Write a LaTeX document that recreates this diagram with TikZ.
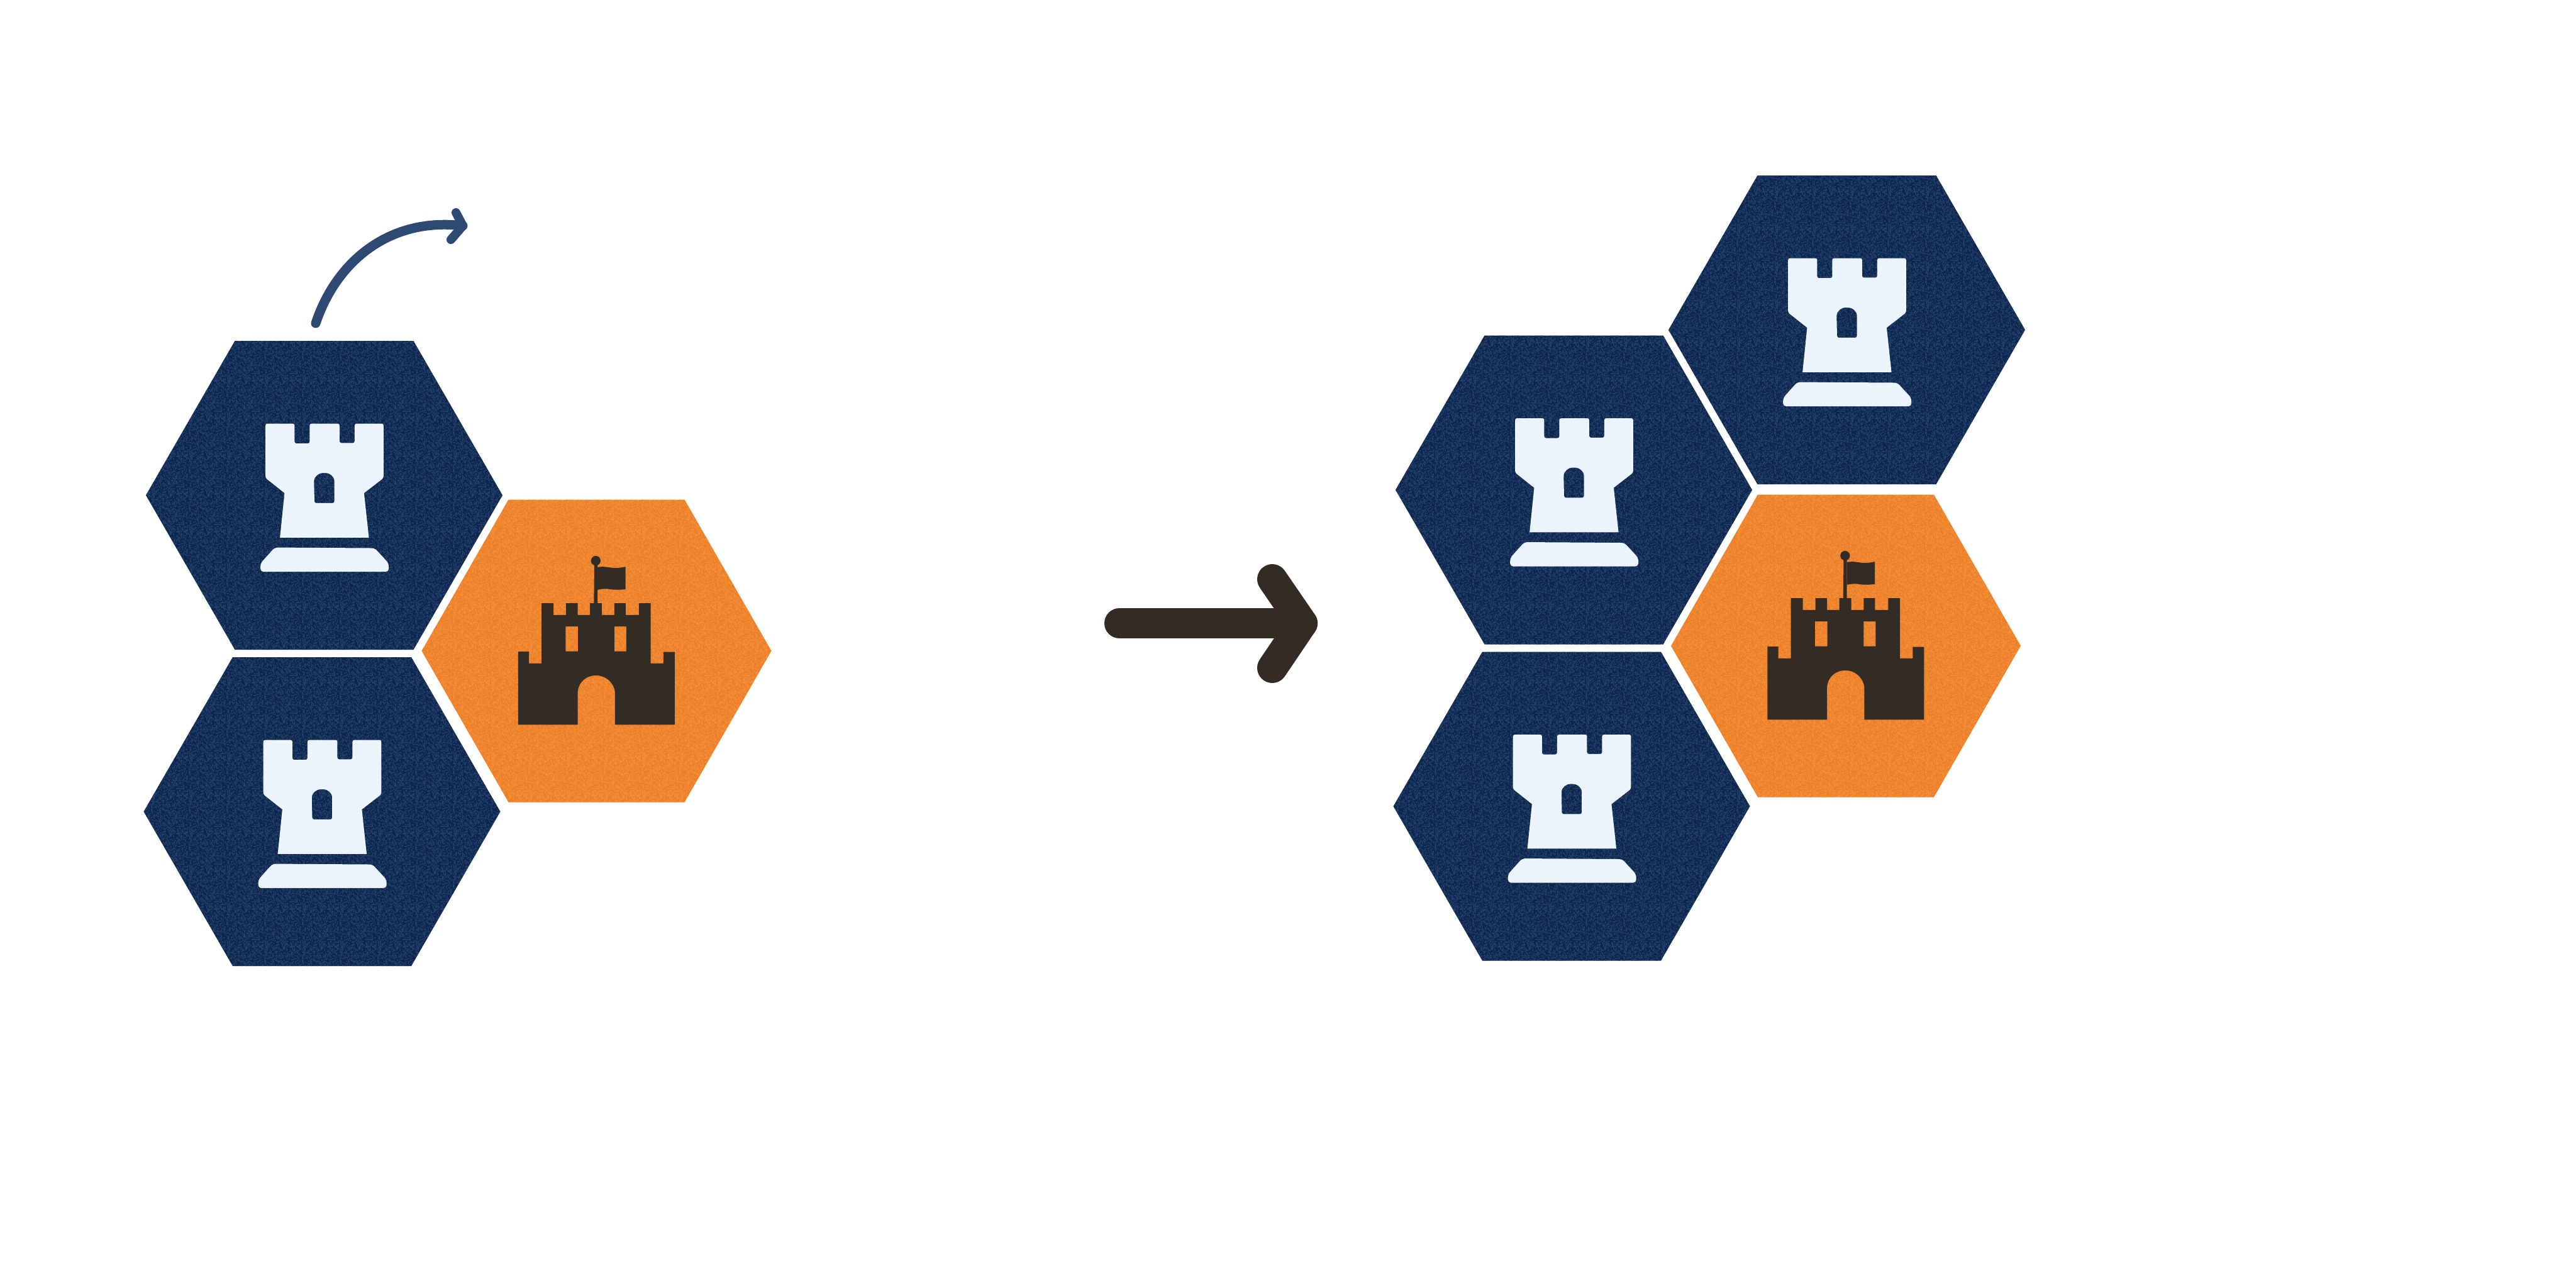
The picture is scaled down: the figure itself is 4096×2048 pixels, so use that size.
\documentclass[tikz,border=0pt]{standalone}
\usetikzlibrary{patterns}
\definecolor{navybase}{HTML}{0D264E}
\definecolor{navylight}{HTML}{26426C}
\definecolor{orangebase}{HTML}{EC802A}
\definecolor{orangelight}{HTML}{F59039}
\definecolor{towerfill}{HTML}{EBF3FD}
\definecolor{darkbrown}{HTML}{332C25}
\definecolor{curvecol}{HTML}{2F4A72}
\pgfmathsetseed{4242}
\pgfdeclarepatternformonly{grain}{\pgfqpoint{0pt}{0pt}}{\pgfqpoint{17.07pt}{17.07pt}}{\pgfqpoint{17.07pt}{17.07pt}}{%
  \foreach \i in {0,...,39}{%
    \foreach \j in {0,...,39}{%
      \pgfmathrandominteger{\rr}{0}{99}%
      \ifnum\rr<35\relax
        \pgfpathrectangle{\pgfpoint{\i*0.42675pt}{\j*0.42675pt}}{\pgfqpoint{0.42675pt}{0.42675pt}}%
        \pgfusepath{fill}%
      \fi
    }%
  }%
}
\tikzset{
  navyfill/.style={fill=navybase},
  orangefill/.style={fill=orangebase},
  pics/navyhexagon/.style={code={
    \path[navyfill] (-283.5,0) -- (-142,-245.5) -- (142,-245.5) -- (283.5,0) -- (142,245.5) -- (-142,245.5) -- cycle;
    \path[pattern=grain,pattern color=navylight] (-283.5,0) -- (-142,-245.5) -- (142,-245.5) -- (283.5,0) -- (142,245.5) -- (-142,245.5) -- cycle;
    \begin{scope}[x=0.0033333cm,y=-0.0033333cm,shift={(-406.5,-442.5)}]
    \path[fill=towerfill,even odd rule,rounded corners=0.03cm]
      (126,100) -- (265,100) -- (265,195) -- (337,195) -- (337,100) -- (480,100) -- (480,193) -- (552,193) -- (552,100) -- (690,100) -- (690,360)
      [sharp corners] -- (597,432) -- (620,645) -- (195,645) -- (217,432) [rounded corners=0.03cm] -- (126,360) -- cycle
      (358,384) .. controls (358,352) and (382,336) .. (406,336) .. controls (432,336) and (455,352) .. (455,384) -- (455,480) -- (360,480) -- cycle;
    \path[fill=towerfill,rounded corners=0.05cm]
      (170,692) -- (648,695) -- (715,768) -- (715,808) -- (102,808) -- (102,768) -- cycle;
    \end{scope}
  }},
  pics/orangehexagon/.style={code={
    \path[orangefill] (-278,0) -- (-140,-240.5) -- (140,-240.5) -- (278,0) -- (140,240.5) -- (-140,240.5) -- cycle;
    \path[pattern=grain,pattern color=orangelight] (-278,0) -- (-140,-240.5) -- (140,-240.5) -- (278,0) -- (140,240.5) -- (-140,240.5) -- cycle;
    \begin{scope}[x=0.0033333cm,y=-0.0033333cm,shift={(-475.5,-525)}]
    \path[fill=darkbrown,even odd rule]
      (101,878) -- (101,528) -- (153,528) -- (153,585) -- (213,585) -- (213,297) -- (270,297) -- (270,353) -- (330,353) -- (330,297) -- (386,297) -- (386,353) -- (444,353) -- (444,297) -- (501,297) -- (501,353) -- (561,353) -- (561,297) -- (615,297) -- (615,353) -- (678,353) -- (678,297) -- (734,297) -- (734,585) -- (795,585) -- (795,530) -- (849,530) -- (849,878) -- (564,878) -- (564,720) .. controls (555,670) and (515,642) .. (473,642) .. controls (430,642) and (390,670) .. (386,720) -- (386,878) -- cycle
      (328,408) rectangle (387,527)
      (561,408) rectangle (618,527);
    \path[fill=darkbrown] (465,100) -- (480,100) -- (480,297) -- (463,297) -- cycle;
    \path[fill=darkbrown] (472,94) circle[radius=23];
    \path[fill=darkbrown] (480,125) .. controls (510,120) and (530,125) .. (550,128) .. controls (575,130) and (595,127) .. (614,123) -- (614,230) .. controls (590,233) and (570,234) .. (545,231) .. controls (525,227) and (500,228) .. (480,233) -- cycle;
    \end{scope}
  }}
}
\begin{document}
\begin{tikzpicture}[x=0.01cm,y=-0.01cm]
\useasboundingbox (0,0) rectangle (4096,2048);
% left panel
\pic at (515.5,787.5) {navyhexagon};
\pic at (512,1290.5) {navyhexagon};
\pic at (948.5,1035) {orangehexagon};
% curved arrow
\coordinate (cstart) at (502,514);
\coordinate (cend) at (736,359);
\coordinate (chup) at (725,338);
\coordinate (chlow) at (717,381);
\draw[curvecol,line width=0.15cm,line cap=round,line join=round] (cstart) .. controls (535,415) and (620,345) .. (cend);
\draw[curvecol,line width=0.14cm,line cap=round,line join=round] (chup) -- (cend) -- (chlow);
% big arrow
\coordinate (bstart) at (1780,991);
\coordinate (bapex) at (2071,991);
\coordinate (bup) at (2023,921);
\coordinate (blow) at (2023,1062);
\draw[darkbrown,line width=0.48cm,line cap=round,line join=round] (bstart) -- (bapex);
\draw[darkbrown,line width=0.48cm,line cap=round,line join=round] (bup) -- (bapex) -- (blow);
% right panel
\pic at (2936.5,524.5) {navyhexagon};
\pic at (2502.5,779) {navyhexagon};
\pic at (2499,1282) {navyhexagon};
\pic at (2935,1027) {orangehexagon};
\end{tikzpicture}
\end{document}
